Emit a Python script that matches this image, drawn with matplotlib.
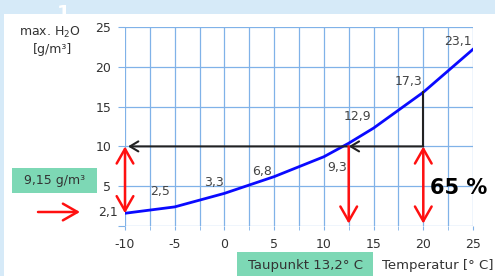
import matplotlib
matplotlib.use('Agg')
import matplotlib.pyplot as plt
from matplotlib.patches import Rectangle, FancyArrowPatch

plt.rcParams['axes.unicode_minus'] = False
plt.rcParams['mathtext.default'] = 'regular'

# Sättigungskurve
temps = [-10, -5, 0, 5, 10, 12.5, 15, 20, 25]
h2o_max = [1.6, 2.4, 4.1, 6.2, 8.7, 10.4, 12.3, 16.8, 22.2]

# Beschriftungen an der Kurve
value_texts = ['2,5', '3,3', '6,8', '9,3', '12,9', '17,3', '23,1']
value_x = [-6.5, -1.1, 3.8, 11.3, 13.4, 18.5, 23.5]
value_y = [4.3, 5.5, 6.9, 7.4, 13.8, 18.2, 23.2]

x_ticks = [-10, -5, 0, 5, 10, 15, 20, 25]
y_ticks = [5, 10, 15, 20, 25]

room_temp = 20
dew_point = 12.5
humidity = 10
start_value = h2o_max[0]

BG = '#d6eaf8'
GRID = '#80b2e8'
GREEN = '#7dd8b5'
TXT = '#333333'

fig = plt.figure(figsize=(4.95, 2.76), dpi=100, facecolor=BG)
fig.patches.append(Rectangle((4 / 495, 0), 1, 1 - 14 / 276, transform=fig.transFigure,
                             facecolor='white', edgecolor='none', zorder=-1))
fig.text(64 / 495, 1 - 4 / 276, '1', color='white', fontsize=14, weight='bold',
         ha='center', va='top', zorder=-2)

ax = fig.add_axes([125 / 495, 1 - 226 / 276, 348 / 495, 199 / 276])
ax.set_xlim(-10, 25)
ax.set_ylim(0, 25)
for s in ax.spines.values():
    s.set_visible(False)

# Gitter
ax.set_xticks(x_ticks)
ax.set_xticks([t + 2.5 for t in x_ticks[:-1]], minor=True)
ax.set_yticks([0] + y_ticks)
ax.set_yticklabels([''] + [str(v) for v in y_ticks])
ax.grid(True, which='both', color=GRID, lw=0.9)
ax.set_axisbelow(True)
ax.tick_params(axis='x', which='both', length=3, color=GRID, labelsize=9, labelcolor=TXT, pad=6)
ax.tick_params(axis='y', length=5, color=GRID, labelsize=9, labelcolor=TXT, pad=5)
ax.set_xticklabels([str(v) for v in x_ticks])

ax.text(-0.02, 1.7, '2,1', transform=ax.get_yaxis_transform(), ha='right', va='center',
        fontsize=9, color=TXT)

# Kurve
ax.plot(temps, h2o_max, color='#0a0aff', lw=2, zorder=3)
for t, x, y in zip(value_texts, value_x, value_y):
    ax.text(x, y, t, ha='center', va='center', fontsize=9, color='#444444', zorder=4)

# schwarze Linien
black = dict(color='#222222', lw=1.5, shrinkA=0, shrinkB=0)
ax.annotate('', xy=(dew_point, humidity), xytext=(room_temp, humidity),
            arrowprops=dict(arrowstyle='->,head_length=0.5,head_width=0.3', mutation_scale=12, **black))
ax.annotate('', xy=(-9.7, humidity), xytext=(dew_point, humidity),
            arrowprops=dict(arrowstyle='->,head_length=0.5,head_width=0.3', mutation_scale=12, **black))
ax.plot([room_temp, room_temp], [humidity, h2o_max[7]], color='#222222', lw=1.5, zorder=4)

# rote Pfeile
red = dict(color='#ff1010', lw=1.8, shrinkA=0, shrinkB=0, mutation_scale=15)
ax.annotate('', xy=(-10, start_value), xytext=(-10, humidity),
            arrowprops=dict(arrowstyle='<->,head_length=0.7,head_width=0.4', **red), zorder=5)
ax.annotate('', xy=(dew_point, 0.3), xytext=(dew_point, humidity),
            arrowprops=dict(arrowstyle='->,head_length=0.7,head_width=0.4', **red), zorder=5)
ax.annotate('', xy=(room_temp, 0.3), xytext=(room_temp, humidity),
            arrowprops=dict(arrowstyle='<->,head_length=0.7,head_width=0.4', **red), zorder=5)
ax.text(20.7, 4.8, '65 %', fontsize=15, weight='bold', color='black', va='center', ha='left')

fig.add_artist(FancyArrowPatch((38 / 495, 1 - 212 / 276), (80 / 495, 1 - 212 / 276),
                               transform=fig.transFigure, arrowstyle='->,head_length=0.7,head_width=0.4',
                               mutation_scale=15, color='#ff1010', lw=1.8, shrinkA=0, shrinkB=0))

# Achsentitel und Kästchen
fig.text(50 / 495, 1 - 32 / 276, 'max. H$_2$O', ha='center', va='center', fontsize=9, color=TXT)
fig.text(52 / 495, 1 - 50 / 276, '[g/m³]', ha='center', va='center', fontsize=9, color=TXT)

fig.patches.append(Rectangle((12 / 495, 1 - 193 / 276), 85 / 495, 25 / 276,
                             transform=fig.transFigure, facecolor=GREEN, edgecolor='none'))
fig.text(54.5 / 495, 1 - 180.5 / 276, '9,15 g/m³', ha='center', va='center', fontsize=9, color=TXT)

fig.patches.append(Rectangle((237 / 495, 0), 136 / 495, 24 / 276,
                             transform=fig.transFigure, facecolor=GREEN, edgecolor='none'))
fig.text(305 / 495, 1 - 265 / 276, 'Taupunkt 13,2° C', ha='center', va='center', fontsize=9.5, color=TXT)
fig.text(382 / 495, 1 - 265 / 276, 'Temperatur [° C]', ha='left', va='center', fontsize=9.5, color=TXT)

fig.savefig('out.png', dpi=100, facecolor=BG)
